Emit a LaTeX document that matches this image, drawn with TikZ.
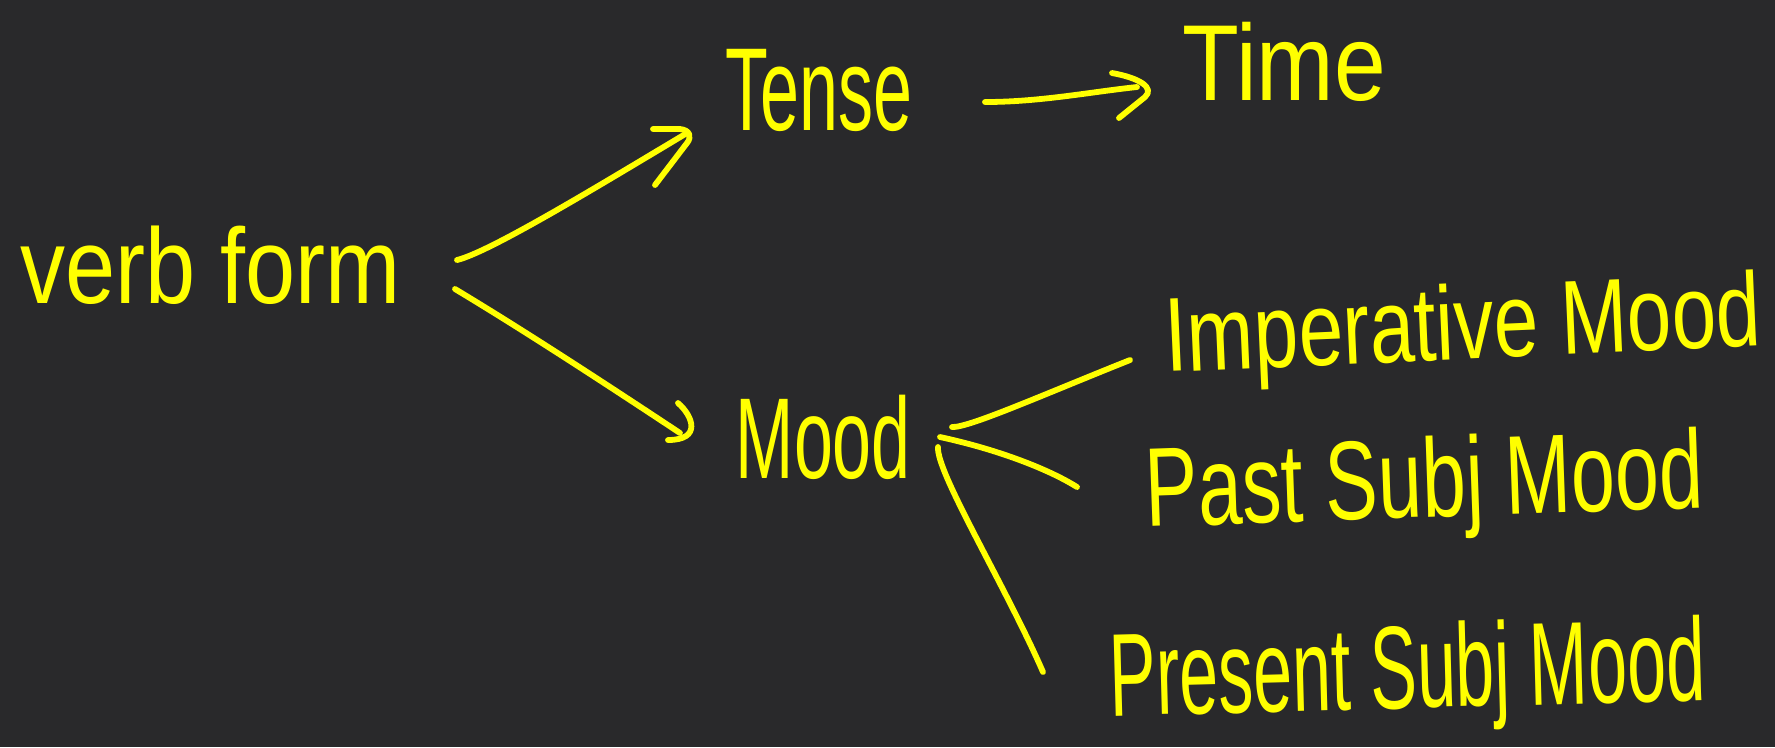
\documentclass[tikz,border=0pt]{standalone}
\usepackage{graphicx}
\usepackage{fontspec}
\setmainfont{Liberation Sans}
\definecolor{bg}{HTML}{29292B}
\definecolor{hw}{HTML}{FFFF00}
\begin{document}
\begin{tikzpicture}[x=0.01cm,y=-0.01cm,
  lbl/.style={anchor=base west, inner sep=0pt, text=hw, font=\fontsize{28.45}{34}\selectfont},
  ink/.style={draw=hw, line width=0.058cm, line cap=round, line join=round}]
\fill[bg] (0,0) rectangle (1775,747);
\useasboundingbox (0,0) rectangle (1775,747);
% labels
\node[lbl] (verbform) at (20,303) {\scalebox{0.90}[1.07]{verb form}};
\node[lbl] (tense) at (725,130) {\scalebox{0.70}[1.18]{Tense}};
\node[lbl] (time) at (1182,100) {\scalebox{0.93}[1.08]{Time}};
\node[lbl] (mood) at (735,478) {\scalebox{0.70}[1.15]{Mood}};
\node[lbl, rotate=2.5] (imp) at (1166,372) {\scalebox{0.80}[1.05]{Imperative Mood}};
\node[lbl, rotate=2] (past) at (1146,527) {\scalebox{0.79}[1.12]{Past Subj Mood}};
\node[lbl, rotate=1.5] (pres) at (1110,716) {\scalebox{0.70}[1.18]{Present Subj Mood}};
% connector end points
\coordinate (vt1) at (457,260); \coordinate (vt2) at (687,133);
\coordinate (vm1) at (455,289); \coordinate (vm2) at (680,433);
\coordinate (tt1) at (985,102); \coordinate (tt2) at (1137,87);
\coordinate (mi1) at (952,427); \coordinate (mi2) at (1130,360);
\coordinate (mp1) at (940,437); \coordinate (mp2) at (1077,487);
\coordinate (mr1) at (938,447); \coordinate (mr2) at (1043,672);
% verb form -> Tense
\draw[ink] (vt1) .. controls (490,252) and (600,185) .. (vt2);
\draw[ink] (653,129) -- (680,129) .. controls (690,130) and (692,137) .. (687,143) -- (655,185);
% verb form -> Mood
\draw[ink] (vm1) .. controls (520,328) and (600,380) .. (vm2);
\draw[ink] (678,403) .. controls (693,416) and (702,440) .. (668,440);
% Tense -> Time
\draw[ink] (tt1) .. controls (1040,102) and (1090,92) .. (tt2);
\draw[ink] (1112,73) .. controls (1140,78) and (1155,88) .. (1145,97) -- (1119,118);
% Mood -> three moods
\draw[ink] (mi1) .. controls (968,428) and (1040,396) .. (mi2);
\draw[ink] (mp1) .. controls (1000,450) and (1050,470) .. (mp2);
\draw[ink] (mr1) .. controls (936,472) and (1005,585) .. (mr2);
\end{tikzpicture}
\end{document}
